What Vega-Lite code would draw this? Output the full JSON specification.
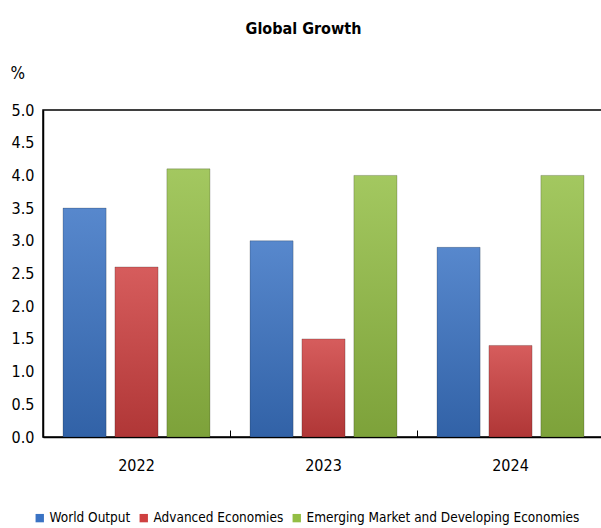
{
  "$schema": "https://vega.github.io/schema/vega-lite/v6.json",
  "autosize": {"type": "none"},
  "width": 561,
  "height": 327,
  "padding": {"left": 43, "top": 110, "right": 0, "bottom": 91},
  "background": "white",
  "config": {
    "font": "DejaVu Sans Condensed, Roboto, sans-serif",
    "view": {"stroke": "black", "strokeWidth": 1.5}
  },
  "title": {
    "text": "Global Growth",
    "fontSize": 16,
    "fontWeight": "bold",
    "font": "DejaVu Sans Condensed, Roboto, sans-serif",
    "color": "black",
    "anchor": "middle",
    "dx": -20,
    "offset": 27
  },
  "data": {
    "values": [
      {"year": "2022", "series": "World Output", "value": 3.5},
      {"year": "2022", "series": "Advanced Economies", "value": 2.6},
      {"year": "2022", "series": "Emerging Market and Developing Economies", "value": 4.1},
      {"year": "2023", "series": "World Output", "value": 3.0},
      {"year": "2023", "series": "Advanced Economies", "value": 1.5},
      {"year": "2023", "series": "Emerging Market and Developing Economies", "value": 4.0},
      {"year": "2024", "series": "World Output", "value": 2.9},
      {"year": "2024", "series": "Advanced Economies", "value": 1.4},
      {"year": "2024", "series": "Emerging Market and Developing Economies", "value": 4.0}
    ]
  },
  "encoding": {
    "x": {
      "field": "year",
      "type": "nominal",
      "scale": {"paddingInner": 0.214, "paddingOuter": 0.107},
      "axis": {
        "title": null,
        "labelAngle": 0,
        "labelFontSize": 16,
        "labelColor": "black",
        "labelPadding": 27,
        "bandPosition": -0.136,
        "tickSize": -7,
        "tickColor": "black",
        "tickWidth": 1,
        "domainColor": "black",
        "domainWidth": 1.5
      }
    },
    "xOffset": {
      "field": "series",
      "type": "nominal",
      "scale": {
        "domain": ["World Output", "Advanced Economies", "Emerging Market and Developing Economies"],
        "paddingInner": 0.17,
        "paddingOuter": 0
      }
    },
    "y": {
      "field": "value",
      "type": "quantitative",
      "scale": {"domain": [0, 5], "nice": false},
      "axis": {
        "title": "%",
        "titleAngle": 0,
        "titleAlign": "left",
        "titleBaseline": "alphabetic",
        "titleX": -33,
        "titleY": -32,
        "titleFontSize": 17,
        "titleFontWeight": "normal",
        "titleColor": "black",
        "values": [0, 0.5, 1, 1.5, 2, 2.5, 3, 3.5, 4, 4.5, 5],
        "format": ".1f",
        "labelFontSize": 16,
        "labelColor": "black",
        "labelPadding": 9,
        "ticks": false,
        "grid": false,
        "domainColor": "black",
        "domainWidth": 1.5
      }
    }
  },
  "layer": [
    {
      "mark": {"type": "bar"},
      "encoding": {
        "color": {
          "field": "series",
          "type": "nominal",
          "scale": {
            "domain": ["World Output", "Advanced Economies", "Emerging Market and Developing Economies"],
            "range": ["#3A73C4", "#CF4040", "#93BE44"]
          },
          "legend": {
            "title": null,
            "orient": "none",
            "direction": "horizontal",
            "legendX": -10,
            "legendY": 401,
            "symbolType": "square",
            "symbolSize": 70,
            "symbolStrokeWidth": 0,
            "labelFontSize": 13.5,
            "labelColor": "black",
            "labelOffset": 3,
            "columnPadding": 6,
            "labelLimit": 400
          }
        }
      }
    },
    {
      "mark": {
        "type": "bar",
        "color": {
          "gradient": "linear",
          "x1": 0, "y1": 0, "x2": 0, "y2": 1,
          "stops": [
            {"offset": 0, "color": "white"},
            {"offset": 1, "color": "black"}
          ]
        },
        "fillOpacity": 0.15,
        "stroke": "black",
        "strokeOpacity": 0.2,
        "strokeWidth": 1
      },
      "encoding": {}
    }
  ]
}
